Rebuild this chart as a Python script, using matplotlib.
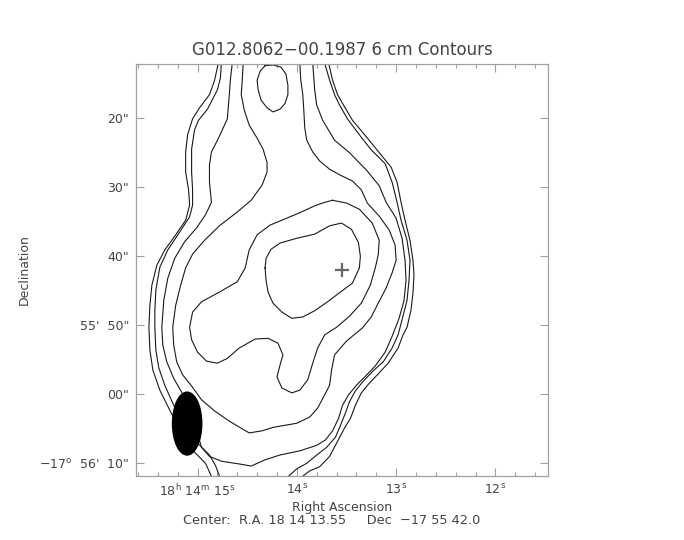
import numpy as np
import matplotlib
matplotlib.use('Agg')
import matplotlib.pyplot as plt
from matplotlib.patches import Ellipse
from matplotlib.ticker import MultipleLocator, FixedLocator

# Map centre: R.A. 18 14 13.55, Dec -17 55 42.0
center_ra = 13.55     # seconds of RA past 18h 14m
center_dec = 42.0     # arcsec past -17d 55' (increases to the south)

# Contour traces: (RA seconds, Dec arcsec past -17d55')
# outermost level, east and west halves (both leave the map top and bottom)
lev1_east = [(14.79, 12.0), (14.83, 14.6), (14.88, 16.6), (14.98, 18.5), (15.05, 20.1),
             (15.10, 22.4), (15.12, 24.9), (15.12, 27.8), (15.09, 30.4), (15.08, 32.6),
             (15.12, 34.8), (15.22, 36.9), (15.33, 39.1), (15.41, 41.3), (15.46, 44.2),
             (15.48, 47.1), (15.49, 50.3), (15.48, 53.6), (15.45, 56.5), (15.38, 59.4),
             (15.28, 62.3), (15.16, 65.5), (15.03, 68.4), (14.92, 70.0), (14.85, 72.2)]
lev1_west = [(13.97, 72.2), (13.87, 71.1), (13.77, 70.5), (13.67, 69.0), (13.60, 67.1),
             (13.52, 64.9), (13.46, 63.5), (13.41, 61.6), (13.35, 59.8), (13.27, 58.4),
             (13.17, 56.9), (13.08, 55.5), (12.98, 53.3), (12.93, 51.4), (12.89, 50.3),
             (12.85, 47.8), (12.83, 45.3), (12.82, 42.7), (12.83, 40.6), (12.86, 37.7),
             (12.91, 34.8), (12.95, 32.2), (12.99, 29.3), (13.05, 27.1), (13.17, 25.0),
             (13.30, 22.7), (13.44, 20.3), (13.53, 18.1), (13.59, 16.6), (13.64, 14.5),
             (13.68, 12.0)]

lev2_east = [(14.76, 12.0), (14.77, 14.2), (14.80, 15.9), (14.90, 18.7), (14.99, 20.3),
             (15.03, 21.7), (15.06, 24.5), (15.06, 27.8), (15.05, 30.4), (15.05, 32.6),
             (15.08, 34.3), (15.18, 36.5), (15.30, 39.1), (15.38, 41.6), (15.42, 44.9),
             (15.43, 47.8), (15.43, 50.3), (15.42, 53.6), (15.39, 56.2), (15.33, 58.7),
             (15.24, 61.6), (15.12, 64.5), (15.00, 67.1), (14.88, 68.8), (14.82, 70.3),
             (14.77, 72.2)]
lev2_west = [(14.11, 72.2), (14.00, 70.8), (13.90, 70.0), (13.79, 68.7), (13.70, 67.7),
             (13.61, 66.2), (13.56, 64.5), (13.51, 62.7), (13.47, 61.1), (13.41, 59.5),
             (13.33, 58.1), (13.23, 56.6), (13.13, 55.3), (13.04, 53.3), (12.98, 51.4),
             (12.94, 49.2), (12.89, 46.4), (12.87, 43.5), (12.86, 40.6), (12.89, 37.7),
             (12.95, 34.8), (12.99, 32.2), (13.04, 29.3), (13.11, 26.6), (13.25, 24.6),
             (13.36, 22.6), (13.49, 20.1), (13.57, 18.1), (13.62, 16.6), (13.67, 14.5),
             (13.72, 12.0)]

# third level closes below the beam, open at the top
lev3 = [(14.65, 12.0), (14.67, 14.5), (14.68, 16.6), (14.70, 20.1), (14.76, 22.0),
        (14.81, 23.5), (14.86, 24.9), (14.88, 26.8), (14.88, 29.3), (14.86, 32.2),
        (14.92, 34.0), (15.01, 35.9), (15.13, 37.9), (15.23, 40.3), (15.30, 43.2),
        (15.34, 46.4), (15.36, 50.3), (15.35, 52.9), (15.31, 55.3), (15.24, 57.7),
        (15.16, 59.7), (15.08, 62.3), (15.01, 65.2), (14.96, 67.7), (14.88, 69.0),
        (14.76, 69.7), (14.58, 70.1), (14.46, 70.4), (14.32, 69.5), (14.17, 68.8),
        (13.97, 68.2), (13.80, 67.4), (13.71, 66.6), (13.64, 65.3), (13.58, 63.5),
        (13.54, 61.6), (13.48, 60.1), (13.40, 58.7), (13.31, 57.4), (13.21, 55.9),
        (13.11, 53.9), (13.04, 51.6), (12.97, 49.0), (12.92, 46.4), (12.90, 43.5),
        (12.91, 40.6), (12.94, 37.4), (13.00, 34.5), (13.10, 32.2), (13.17, 29.8),
        (13.30, 27.5), (13.47, 25.0), (13.62, 23.2), (13.74, 20.3), (13.80, 18.1),
        (13.82, 15.9), (13.84, 12.0)]

lev4 = [(14.54, 12.0), (14.55, 14.5), (14.56, 16.6), (14.53, 18.8), (14.48, 21.0),
        (14.40, 22.9), (14.34, 24.5), (14.30, 26.4), (14.30, 27.8), (14.35, 29.7),
        (14.46, 31.9), (14.60, 33.6), (14.78, 35.6), (14.93, 37.7), (15.05, 39.7),
        (15.12, 41.7), (15.17, 44.2), (15.22, 47.1), (15.25, 50.3), (15.24, 52.9),
        (15.21, 55.3), (15.15, 57.2), (15.06, 58.8), (14.96, 60.8), (14.83, 62.4),
        (14.68, 63.9), (14.48, 65.6), (14.35, 65.3), (14.24, 64.8), (14.00, 64.2),
        (13.87, 63.3), (13.79, 62.0), (13.72, 60.1), (13.67, 58.7), (13.65, 56.5),
        (13.62, 54.3), (13.50, 52.3), (13.34, 50.4), (13.25, 48.8), (13.18, 46.8),
        (13.10, 44.6), (13.04, 42.4), (13.00, 40.6), (13.01, 38.4), (13.07, 36.2),
        (13.17, 34.2), (13.29, 32.3), (13.35, 30.4), (13.44, 29.1), (13.57, 28.2),
        (13.67, 27.4), (13.77, 26.2), (13.84, 24.9), (13.90, 23.2), (13.92, 21.4),
        (13.93, 18.8), (13.94, 16.6), (13.96, 14.5), (13.97, 12.0)]

# closed levels
lev5 = [(13.64, 31.9), (13.50, 32.3), (13.37, 33.2), (13.24, 35.2), (13.17, 37.7),
        (13.18, 39.8), (13.21, 41.7), (13.26, 44.2), (13.35, 46.8), (13.47, 48.7),
        (13.60, 50.3), (13.72, 51.4), (13.79, 53.3), (13.84, 55.5), (13.89, 57.9),
        (13.97, 59.4), (14.05, 59.8), (14.15, 59.1), (14.20, 57.5), (14.17, 55.8),
        (14.14, 54.3), (14.19, 52.6), (14.29, 51.9), (14.42, 52.0), (14.58, 53.3),
        (14.70, 54.8), (14.80, 55.5), (14.91, 55.2), (15.00, 53.9), (15.06, 52.1),
        (15.08, 50.3), (15.05, 48.1), (14.96, 46.6), (14.78, 45.2), (14.60, 43.7),
        (14.52, 41.7), (14.48, 39.1), (14.40, 36.9), (14.27, 35.5), (14.12, 34.6),
        (13.97, 33.7), (13.82, 32.7), (13.72, 32.2)]

lev6 = [(14.32, 41.7), (14.31, 40.3), (14.26, 39.0), (14.17, 38.1), (14.00, 37.4),
        (13.82, 36.8), (13.67, 35.6), (13.55, 35.2), (13.45, 36.1), (13.38, 38.0),
        (13.36, 40.0), (13.37, 41.7), (13.44, 43.9), (13.57, 45.3), (13.69, 46.6),
        (13.82, 47.9), (13.94, 48.8), (14.05, 49.0), (14.15, 48.1), (14.24, 46.8),
        (14.29, 45.2), (14.31, 43.5)]

# small knot at the north edge
knot = [(14.32, 12.4), (14.24, 12.3), (14.16, 12.6), (14.11, 13.6), (14.09, 15.2),
        (14.09, 16.6), (14.12, 17.9), (14.17, 18.7), (14.24, 19.1), (14.30, 18.5),
        (14.36, 17.4), (14.39, 15.9), (14.40, 14.5), (14.37, 13.2)]

# restoring beam (arcsec) and its position
beam_ra = 15.105
beam_dec = 64.25
beam_major = 9.1
beam_minor = 4.2

ra_ticks = [15, 14, 13, 12]
ra_labels = ['18$^{h}$ 14$^{m}$ 15$^{s}$', '14$^{s}$', '13$^{s}$', '12$^{s}$']
dec_ticks = [20, 30, 40, 50, 60, 70]
dec_labels = ['20"', '30"', '40"', '55\'  50"', '00"', '\u221217$^{o}$  56\'  10"']

plt.rcParams['mathtext.default'] = 'regular'
plt.rcParams['font.family'] = 'DejaVu Sans'

text_col = '#444444'
frame_col = '#a0a0a0'

fig = plt.figure(figsize=(6.84, 5.4), dpi=100)
ax = fig.add_axes([136 / 684, 1 - 475.7 / 540, 412 / 684, 411.4 / 540])

open_pieces = [lev1_east, lev1_west, lev2_east, lev2_west, lev3, lev4]
closed_pieces = [lev5, lev6, knot]

for piece in open_pieces:
    ra, dec = zip(*piece)
    ax.plot(ra, dec, color='#1a1a1a', lw=0.8)

for piece in closed_pieces:
    ra, dec = zip(*(piece + piece[:1]))
    ax.plot(ra, dec, color='#1a1a1a', lw=0.8)

# beam: convert minor axis from arcsec to seconds of RA
cosd = np.cos(np.radians(17 + 55 / 60))
beam = Ellipse((beam_ra, beam_dec), width=beam_minor / (15 * cosd), height=beam_major,
               facecolor='black', edgecolor='black', zorder=5)
ax.add_patch(beam)

# pointing centre
ax.plot([center_ra], [center_dec], marker='+', color='#666666', ms=10, mew=1.6, zorder=6)

ax.set_xlim(15.62, 11.47)
ax.set_ylim(71.8, 12.2)

ax.xaxis.set_major_locator(FixedLocator(ra_ticks))
ax.set_xticklabels(ra_labels)
ax.xaxis.set_minor_locator(MultipleLocator(0.2))
ax.yaxis.set_major_locator(FixedLocator(dec_ticks))
ax.set_yticklabels(dec_labels)

ax.tick_params(which='both', direction='in', top=True, right=True, color=frame_col,
               width=0.8, labelsize=9, labelcolor=text_col)
ax.tick_params(which='major', length=6, pad=5)
ax.tick_params(which='minor', length=3)
for sp in ax.spines.values():
    sp.set_color(frame_col)
    sp.set_linewidth(0.9)

ax.set_title('G012.8062\u221200.1987 6 cm Contours', fontsize=12, color=text_col, pad=7)
fig.text(342 / 684, 1 - 507 / 540, 'Right Ascension', ha='center', va='center',
         fontsize=9, color=text_col)
fig.text(332 / 684, 1 - 520 / 540, 'Center:  R.A. 18 14 13.55     Dec  \u221217 55 42.0',
         ha='center', va='center', fontsize=9.3, color=text_col)
fig.text(24 / 684, 1 - 270 / 540, 'Declination', ha='center', va='center', rotation=90,
         fontsize=9, color=text_col)

fig.savefig('out.png', dpi=100, facecolor='white')
